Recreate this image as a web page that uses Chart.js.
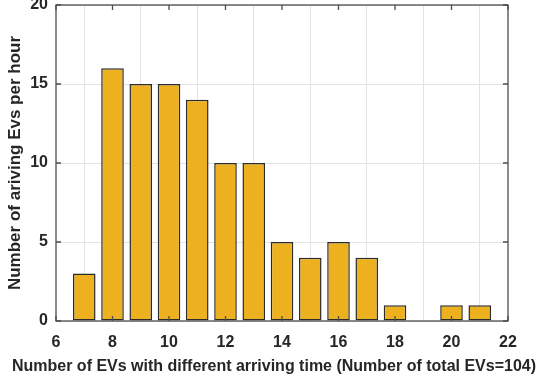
<!DOCTYPE html>
<html>
<head>
<meta charset="utf-8">
<script src="https://cdn.jsdelivr.net/npm/chart.js@4"></script>
<style>
  html, body { margin: 0; padding: 0; background: #fff; }
  #wrap { width: 550px; height: 383px; }
</style>
</head>
<body>
<div id="wrap"><canvas id="evChart" width="550" height="383"></canvas></div>
<script>
// arriving hour and EV count per hour
const hours = [7, 8, 9, 10, 11, 12, 13, 14, 15, 16, 17, 18, 19, 20, 21];
const evCounts = [3, 16, 15, 15, 14, 10, 10, 5, 4, 5, 4, 1, 0, 1, 1];
const xTicks = [6, 8, 10, 12, 14, 16, 18, 20, 22];
const yTicks = [0, 5, 10, 15, 20];
const xTitle = 'Number of EVs with different arriving time (Number of total EVs=104)';

const axisColor = '#4d4d4d';
const textColor = '#262626';
const tickFont = { family: 'Liberation Sans', size: 16, weight: 'bold' };

// frame on top and right + inward ticks, like matlab
// x title drawn here too, chart.js would squeeze it to the axis width
const framePlugin = {
    id: 'frame',
    afterDraw(chart) {
        const { ctx, chartArea: a, scales } = chart;
        ctx.save();
        ctx.strokeStyle = axisColor;
        ctx.lineWidth = 1.3;
        ctx.strokeRect(a.left, a.top, a.right - a.left, a.bottom - a.top);
        ctx.beginPath();
        xTicks.forEach(t => {
            const x = scales.x.getPixelForValue(t);
            ctx.moveTo(x, a.bottom); ctx.lineTo(x, a.bottom - 5);
            ctx.moveTo(x, a.top); ctx.lineTo(x, a.top + 5);
        });
        yTicks.forEach(t => {
            const y = scales.y.getPixelForValue(t);
            ctx.moveTo(a.left, y); ctx.lineTo(a.left + 5, y);
            ctx.moveTo(a.right, y); ctx.lineTo(a.right - 5, y);
        });
        ctx.stroke();

        ctx.fillStyle = textColor;
        ctx.font = 'bold 16px "Liberation Sans"';
        ctx.textAlign = 'center';
        ctx.textBaseline = 'middle';
        ctx.fillText(xTitle, 274, 367);
        ctx.restore();
    }
};

new Chart(document.getElementById('evChart'), {
    type: 'bar',
    data: {
        datasets: [{
            data: hours.map((h, i) => ({ x: h, y: evCounts[i] })),
            backgroundColor: '#EDB120',
            borderColor: '#2b2b2b',
            borderWidth: c => (c.raw && c.raw.y > 0 ? 1.5 : 0),
            borderSkipped: false,
            barPercentage: 0.8,
            categoryPercentage: 1.0
        }]
    },
    options: {
        responsive: false,
        animation: false,
        layout: { padding: { top: 5, right: 42, bottom: 0, left: 0 } },
        plugins: { legend: { display: false }, tooltip: { enabled: false } },
        scales: {
            x: {
                type: 'linear',
                min: 6, max: 22,
                offset: false,
                afterBuildTicks: s => { s.ticks = xTicks.map(v => ({ value: v })); },
                afterFit: s => { s.height = 62; s.paddingLeft = 0; s.paddingRight = 0; },
                grid: { color: '#e3e3e3', drawTicks: false },
                border: { display: false },
                ticks: { color: textColor, font: tickFont, padding: 12, maxRotation: 0 }
            },
            y: {
                min: 0, max: 20,
                afterBuildTicks: s => { s.ticks = yTicks.map(v => ({ value: v })); },
                afterFit: s => { s.width = 56; s.paddingTop = 0; s.paddingBottom = 0; },
                grid: { color: '#e3e3e3', drawTicks: false },
                border: { display: false },
                ticks: { color: textColor, font: tickFont, padding: 8 },
                title: {
                    display: true,
                    text: 'Number of ariving Evs per hour',
                    color: textColor, font: { family: 'Liberation Sans', size: 17, weight: 'bold' },
                    padding: { top: 5, bottom: 0 }
                }
            }
        }
    },
    plugins: [framePlugin]
});
</script>
</body>
</html>
